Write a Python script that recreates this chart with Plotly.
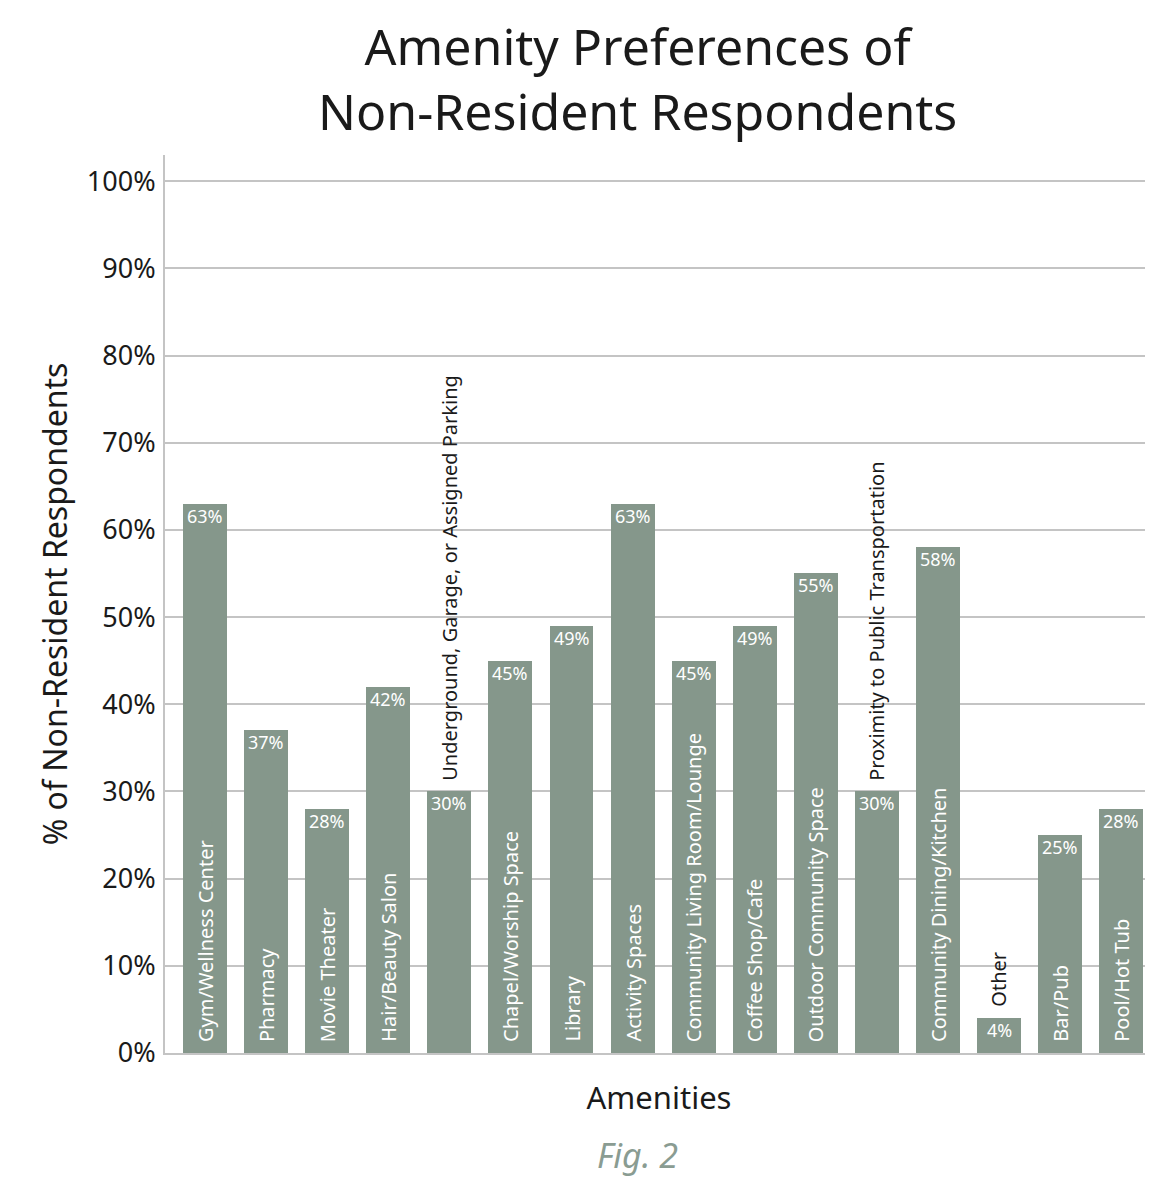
import plotly.graph_objects as go

# data
amenities = [
    "Gym/Wellness Center", "Pharmacy", "Movie Theater", "Hair/Beauty Salon",
    "Underground, Garage, or Assigned Parking", "Chapel/Worship Space", "Library",
    "Activity Spaces", "Community Living Room/Lounge", "Coffee Shop/Cafe",
    "Outdoor Community Space", "Proximity to Public Transportation",
    "Community Dining/Kitchen", "Other", "Bar/Pub", "Pool/Hot Tub",
]
pct = [63, 37, 28, 42, 30, 45, 49, 63, 45, 49, 55, 30, 58, 4, 25, 28]
# labels too long for their bar are written above it
outside = ["Underground, Garage, or Assigned Parking",
           "Proximity to Public Transportation", "Other"]
y_ticks = list(range(0, 101, 10))
y_tick_text = [f"{t}%" for t in y_ticks]
title_lines = ["Amenity Preferences of", "Non-Resident Respondents"]

BAR = "#85978b"
GRID = "#c4c4c4"
INK = "#1a1a1a"
FONT = "Noto Sans"

xs = list(range(len(amenities)))

fig = go.Figure()
fig.add_trace(go.Bar(
    x=xs, y=pct, width=0.72,
    marker=dict(color=BAR, line=dict(width=0)),
    hoverinfo="skip", showlegend=False,
))

annotations = []
for i, (name, v) in enumerate(zip(amenities, pct)):
    # value label at top of bar
    annotations.append(dict(
        x=i, y=v, xref="x", yref="y", text=f"{v}%", showarrow=False,
        xanchor="center", yanchor="top", yshift=1, borderpad=0,
        font=dict(family=FONT, size=18, color="white"),
    ))
    if name in outside:
        annotations.append(dict(
            x=i, y=v, xref="x", yref="y", text=name, showarrow=False,
            textangle=-90, xanchor="center", yanchor="bottom", yshift=10,
            borderpad=0, font=dict(family=FONT, size=20, color=INK),
        ))
    else:
        annotations.append(dict(
            x=i, y=0, xref="x", yref="y", text=name, showarrow=False,
            textangle=-90, xanchor="center", yanchor="bottom", yshift=10,
            borderpad=0, font=dict(family=FONT, size=20, color="white"),
        ))

# title
annotations.append(dict(
    x=0.478, y=1, xref="paper", yref="paper", text="<br>".join(title_lines),
    showarrow=False, xanchor="center", yanchor="bottom", yshift=8,
    font=dict(family=FONT, size=50, color=INK),
))
annotations.append(dict(
    x=0.478, y=-0.1136, xref="paper", yref="paper", text="<i>Fig. 2</i>",
    showarrow=False, xanchor="center", yanchor="middle",
    font=dict(family=FONT, size=34, color="#8a9c92"),
))

# page body has an 8px margin, so the figure is 8px smaller than the window
fig.update_layout(
    width=1145, height=1173,
    margin=dict(l=157, r=0, t=147, b=128),
    paper_bgcolor="white", plot_bgcolor="white",
    font=dict(family=FONT, color=INK),
    bargap=0,
    annotations=annotations,
)
fig.update_xaxes(
    range=[-0.655, 15.52], showticklabels=False, ticks="",
    showgrid=False, zeroline=False,
    showline=True, linecolor=GRID, linewidth=2,
    title=dict(text="Amenities", standoff=33,
               font=dict(family=FONT, size=31, color=INK)),
)
fig.update_yaxes(
    range=[0, 103], tickvals=y_ticks, ticktext=y_tick_text,
    tickfont=dict(family=FONT, size=27, color=INK),
    showgrid=True, gridcolor=GRID, gridwidth=2, zeroline=False,
    showline=True, linecolor=GRID, linewidth=2, ticks="", ticklabelstandoff=2,
    title=dict(text="% of Non-Resident Respondents", standoff=10,
               font=dict(family=FONT, size=32, color=INK)),
)

fig.write_html("out.html")
